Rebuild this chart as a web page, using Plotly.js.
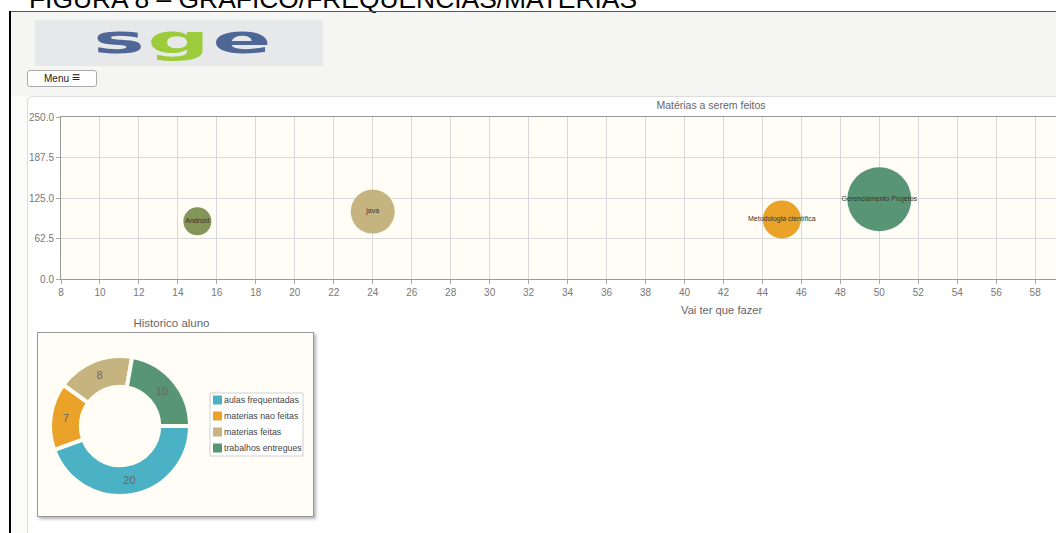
<!DOCTYPE html>
<html>
<head>
<meta charset="utf-8">
<script src="https://cdn.plot.ly/plotly-3.0.1.min.js"></script>
<style>
html,body{margin:0;padding:0;width:1056px;height:533px;overflow:hidden;background:#fff;font-family:"Liberation Sans",Arial,sans-serif;}
#figcap{position:absolute;left:29px;top:-14px;font-size:26.4px;line-height:26.4px;color:#000;white-space:nowrap;}
#page{position:absolute;left:11px;top:12px;width:1045px;height:521px;background:#fbfbfa;}
#header{position:absolute;left:11px;top:12px;width:1045px;height:84px;background:#f5f5f3;}
#hline{position:absolute;left:10px;top:11px;width:1046px;height:1px;background:#555;}
#vline{position:absolute;left:9px;top:11px;width:2px;height:522px;background:#000;}
#logo{position:absolute;left:35px;top:20px;width:288px;height:46px;background:#e7e8ea;}
#logotext{position:absolute;left:58px;top:0px;font-family:"DejaVu Sans",sans-serif;font-weight:bold;font-size:38px;line-height:40px;white-space:nowrap;transform:scaleX(2.3);transform-origin:0 0;letter-spacing:1px;}
#menu{position:absolute;left:27px;top:70px;width:68px;height:15px;background:#fff;border:1px solid #aaa;border-radius:3px;font-size:10px;line-height:15px;text-align:center;color:#222;}
#menu b{font-size:14px;line-height:12px;vertical-align:top;}
#card{position:absolute;left:27px;top:96px;width:1060px;height:460px;background:#fff;border:1px solid #ddd;border-radius:5px;}
#bubble{position:absolute;left:0;top:96px;width:1056px;height:224px;}
#piebox{position:absolute;left:37px;top:332px;width:275px;height:183px;background:#fffdf6;border:1px solid #999;box-shadow:2px 2px 3px rgba(0,0,0,0.3);}
#pie{position:absolute;left:37px;top:312px;width:277px;height:205px;}
</style>
</head>
<body>
<div id="page"></div>
<div id="header"></div>
<div id="figcap">FIGURA 8 – GRÁFICO/FREQUÊNCIAS/MATÉRIAS</div>
<div id="hline"></div>
<div id="vline"></div>
<div id="logo"><div id="logotext"><span style="color:#4e6797">s</span><span style="color:#9ccb3b">g</span><span style="color:#4e6797">e</span></div></div>
<div id="menu">Menu <b>&#8801;</b></div>
<div id="card"></div>
<div id="bubble"></div>
<div id="piebox"></div>
<div id="pie"></div>
<script>
// ---- data ----
const subjects = ['Android', 'java', 'Metodologia científica', 'Gerenciamento Projetos'];
const bubbleX = [15, 24, 45, 50];
const bubbleY = [89, 104, 92, 123];
const bubbleValue = [14, 22, 19, 32];
const yTickValues = [0, 62.5, 125, 187.5, 250];
const yTickLabels = ['0.0', '62.5', '125.0', '187.5', '250.0'];

const pieLabels = ['aulas frequentadas', 'materias nao feitas', 'materias feitas', 'trabalhos entregues'];
const pieValues = [20, 7, 8, 10];

// ---- styles ----
const FONT = '"Liberation Sans", Arial, sans-serif';
const bubbleColors = ['#839557', '#c5b47f', '#eaa228', '#579575'];
const pieColors = ['#4bb2c5', '#eaa228', '#c5b47f', '#579575'];

const W = 1056, H = 224;
const ml = 61, mt = 21, mb = 41;
const plotH = H - mt - mb;

Plotly.newPlot('bubble', [{
  type: 'scatter',
  mode: 'markers+text',
  x: bubbleX,
  y: bubbleY,
  text: subjects,
  textposition: 'middle center',
  textfont: {family: FONT, size: 7, color: '#333'},
  marker: {
    size: bubbleValue,
    sizemode: 'diameter',
    sizeref: 0.5,
    color: bubbleColors,
    opacity: 1,
    line: {width: 0}
  },
  cliponaxis: false,
  hoverinfo: 'x+y+text'
}], {
  width: W, height: H,
  margin: {l: ml, r: 0, t: mt, b: mb, pad: 0},
  paper_bgcolor: 'rgba(0,0,0,0)',
  plot_bgcolor: '#fffdf6',
  showlegend: false,
  title: {
    text: 'Matérias a serem feitos',
    font: {family: FONT, size: 10.5, color: '#666'},
    xref: 'container', x: 711 / W, xanchor: 'center',
    yref: 'container', y: 1 - 9.7 / H, yanchor: 'middle'
  },
  xaxis: {
    range: [8, 59.07],
    tickmode: 'linear', tick0: 8, dtick: 2,
    showgrid: true, gridcolor: '#d9d9d9', gridwidth: 1,
    showline: true, mirror: true, linecolor: '#999', linewidth: 1,
    ticks: 'outside', ticklen: 4, tickcolor: '#aaa',
    tickfont: {family: FONT, size: 10, color: '#777'},
    zeroline: false, fixedrange: true
  },
  yaxis: {
    range: [0, 250],
    tickmode: 'array', tickvals: yTickValues, ticktext: yTickLabels,
    showgrid: true, gridcolor: '#d9d9d9', gridwidth: 1,
    showline: true, linecolor: '#999', linewidth: 1,
    ticks: 'outside', ticklen: 4, tickcolor: '#aaa',
    tickfont: {family: FONT, size: 10, color: '#777'},
    zeroline: false, fixedrange: true
  },
  annotations: [{
    text: 'Vai ter que fazer',
    xref: 'paper', x: (722 - ml) / (W - ml), xanchor: 'center',
    yref: 'paper', y: -(310 - 279) / plotH, yanchor: 'middle',
    showarrow: false,
    font: {family: FONT, size: 11.2, color: '#666'}
  }]
}, {displayModeBar: false, staticPlot: true});

// ---- donut ----
const PW = 277, PH = 205;
const cx = 83, cy = 114, r = 70;
const px = v => v / PW;          // pixel -> paper x
const py = v => 1 - v / PH;      // pixel (from top) -> paper y

// legend (jqPlot style: small swatch right next to the text)
const legBox = {x0: 173, x1: 266, y0: 81, y1: 144};
const legRow0 = 88, legStep = 16;
const legShapes = [{
  type: 'rect', xref: 'paper', yref: 'paper',
  x0: px(legBox.x0), x1: px(legBox.x1), y0: py(legBox.y1), y1: py(legBox.y0),
  fillcolor: '#ffffff', line: {color: '#d0d0d0', width: 1}, layer: 'below'
}];
const legAnnots = [];
pieLabels.forEach((lab, i) => {
  const yc = legRow0 + i * legStep;
  legShapes.push({
    type: 'rect', xref: 'paper', yref: 'paper',
    x0: px(176), x1: px(185), y0: py(yc + 4.5), y1: py(yc - 4.5),
    fillcolor: pieColors[i], line: {width: 0}
  });
  legAnnots.push({
    text: lab, xref: 'paper', yref: 'paper',
    x: px(186), xanchor: 'left', y: py(yc), yanchor: 'middle',
    showarrow: false, borderpad: 0,
    font: {family: FONT, size: 8.8, color: '#444'}
  });
});

Plotly.newPlot('pie', [{
  type: 'pie',
  labels: pieLabels,
  values: pieValues,
  sort: false,
  direction: 'clockwise',
  rotation: 90,
  hole: 0.56,
  marker: {colors: pieColors, line: {color: '#fffdf6', width: 4}},
  textinfo: 'value',
  textposition: 'inside',
  insidetextorientation: 'horizontal',
  textfont: {family: FONT, size: 11, color: '#666'},
  domain: {
    x: [(cx - r) / PW, (cx + r) / PW],
    y: [(PH - cy - r) / PH, (PH - cy + r) / PH]
  },
  showlegend: false
}], {
  width: PW, height: PH,
  margin: {l: 0, r: 0, t: 0, b: 0},
  paper_bgcolor: 'rgba(0,0,0,0)',
  title: {
    text: 'Historico aluno',
    font: {family: FONT, size: 11.5, color: '#666'},
    xref: 'container', x: (171.5 - 37) / PW, xanchor: 'center',
    yref: 'container', y: 1 - 11 / PH, yanchor: 'middle'
  },
  showlegend: false,
  shapes: legShapes,
  annotations: legAnnots
}, {displayModeBar: false, staticPlot: true});
</script>
</body>
</html>
